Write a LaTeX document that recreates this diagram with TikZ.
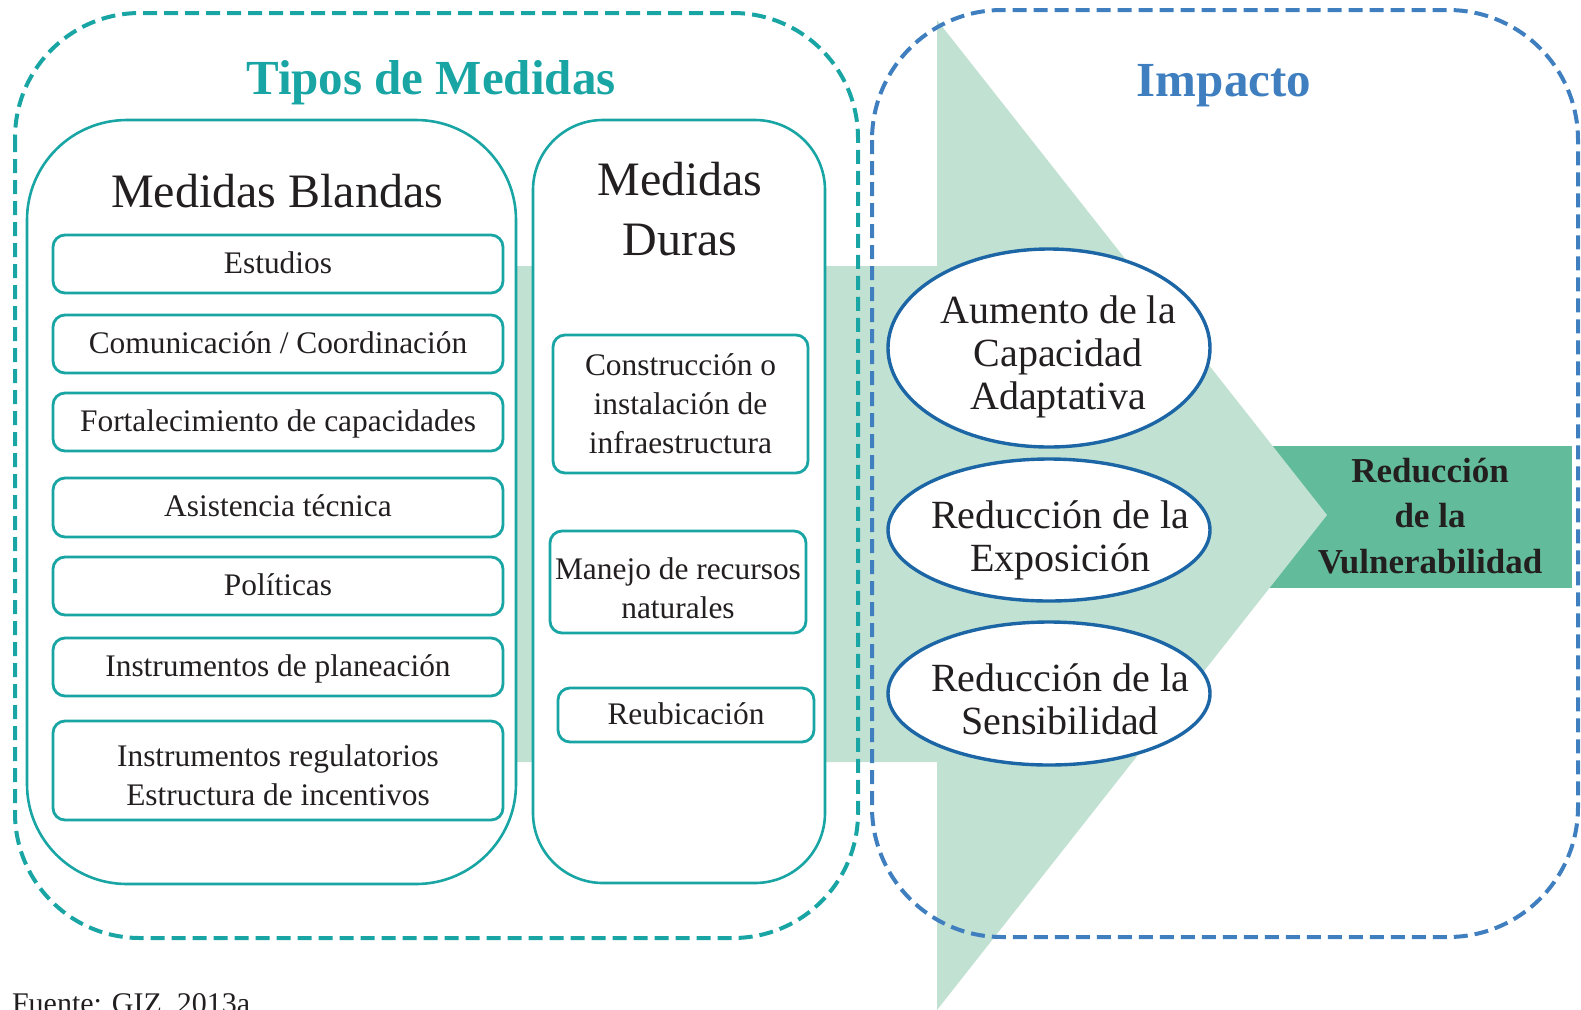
\documentclass[tikz,border=0pt]{standalone}
\usepackage{fontspec}
\setmainfont{Liberation Serif}
\usetikzlibrary{shapes.geometric}
\definecolor{teal1}{RGB}{26,165,165}
\definecolor{blue1}{RGB}{63,127,192}
\definecolor{eblue}{RGB}{28,102,166}
\definecolor{lgreen}{RGB}{193,225,211}
\definecolor{dgreen}{RGB}{98,188,156}
\definecolor{txt}{RGB}{35,31,32}
\begin{document}
\begin{tikzpicture}[x=0.5pt,y=-0.5pt,
  every node/.style={text=txt, inner sep=0pt, outer sep=0pt},
  bigbox/.style={draw=teal1, line width=1.3pt, fill=white},
  smallbox/.style={draw=teal1, line width=1.4pt, fill=white, rounded corners=6pt,
     font=\fontsize{15.7pt}{19.5pt}\selectfont, align=center},
  boxtext/.style={font=\fontsize{15.7pt}{19.5pt}\selectfont, align=center},
  oneline/.style={text height=0.92em, text depth=0.0em},
  dashteal/.style={draw=teal1, line width=2pt, dash pattern=on 7pt off 3.5pt, rounded corners=62.5pt},
  dashblue/.style={draw=blue1, line width=2pt, dash pattern=on 7pt off 3.5pt, rounded corners=65pt},
  ell/.style={ellipse, draw=eblue, line width=1.7pt, fill=white, minimum width=161pt},
  elltext/.style={align=center, font=\fontsize{20pt}{21.5pt}\selectfont},
  heading/.style={font=\fontsize{24pt}{30pt}\selectfont, align=center},
  toptitle/.style={font=\fontsize{24.5pt}{28pt}\selectfont\bfseries, anchor=base}
]
\useasboundingbox (0,0) rectangle (1581,1009);

% result box
\node[fill=dgreen, minimum width=155pt, minimum height=71pt] (resbox) at (1417,517) {};

% big arrow
\fill[lgreen] (500,266) -- (937,266) -- (937,20) -- (1327,515) -- (937,1010)
   -- (937,762) -- (500,762) -- cycle;

% outer boxes
\node[bigbox, rounded corners=50pt, minimum width=244.5pt, minimum height=382pt] (blandas) at (271.5,502) {};
\node[bigbox, rounded corners=35pt, minimum width=146pt, minimum height=381.5pt] (duras) at (679,501.5) {};

% inner boxes Blandas
\node[smallbox, oneline, minimum width=225pt, minimum height=29pt] (estudios) at (278,264) {Estudios};
\node[smallbox, oneline, minimum width=225pt, minimum height=29pt] (comunic) at (278,344) {Comunicación / Coordinación};
\node[smallbox, oneline, minimum width=225pt, minimum height=29pt] (fortal) at (278,422) {Fortalecimiento de capacidades};
\node[smallbox, oneline, minimum width=225pt, minimum height=29.5pt] (asist) at (278,507.5) {Asistencia técnica};
\node[smallbox, oneline, minimum width=225pt, minimum height=29pt] (polit) at (278,586) {Políticas};
\node[smallbox, oneline, minimum width=225pt, minimum height=29pt] (planea) at (278,667) {Instrumentos de planeación};
\node[smallbox, minimum width=225pt, minimum height=49.5pt] (regul) at (278,770.5) {};
\node[boxtext] (regultxt) at ([yshift=-2.5pt]regul.center) {Instrumentos regulatorios\\Estructura de incentivos};

% inner boxes Duras
\node[smallbox, minimum width=127.5pt, minimum height=69pt] (constr) at (680.5,404) {Construcción o\\instalación de\\infraestructura};
\node[smallbox, minimum width=128pt, minimum height=51pt] (manejo) at (678,582) {};
\node[boxtext] (manejotxt) at ([yshift=-3pt]manejo.center) {Manejo de recursos\\naturales};
\node[smallbox, oneline, minimum width=128pt, minimum height=27pt] (reubic) at (686,715) {Reubicación};

% dashed frames
\path[dashteal] (15,13) rectangle (858,938);
\path[dashblue] (872,10) rectangle (1578,937);

% ellipses
\node[ell, minimum height=99pt] (aumento) at (1049,348) {};
\node[ell, minimum height=71pt] (exposic) at (1049,530) {};
\node[ell, minimum height=71.5pt] (sensib) at (1049,693.5) {};
\node[elltext] (aumentotxt) at (1058,357) {Aumento de la\\Capacidad\\Adaptativa};
\node[elltext] (exposictxt) at (1060,540) {Reducción de la\\Exposición};
\node[elltext] (sensibtxt) at (1060,699) {Reducción de la\\Sensibilidad};

% result text
\node[font=\fontsize{17.5pt}{22.75pt}\selectfont\bfseries, align=center] (vulner) at (1430,516) {Reducción\\de la\\Vulnerabilidad};

% titles
\node[toptitle, text=teal1] (tipos) at (431,94) {Tipos de Medidas};
\node[toptitle, text=blue1] (impacto) at (1224,96) {Impacto};
\node[heading, anchor=base] (tblandas) at (277,207) {Medidas Blandas};
\node[heading, anchor=base] (tduras1) at (680,195) {Medidas};
\node[heading, anchor=base] (tduras2) at (680,255) {Duras};

% source
\node[font=\fontsize{15pt}{18pt}\selectfont, anchor=base west] (fuente) at (12,1013) {Fuente: GIZ, 2013a};
\end{tikzpicture}
\end{document}
